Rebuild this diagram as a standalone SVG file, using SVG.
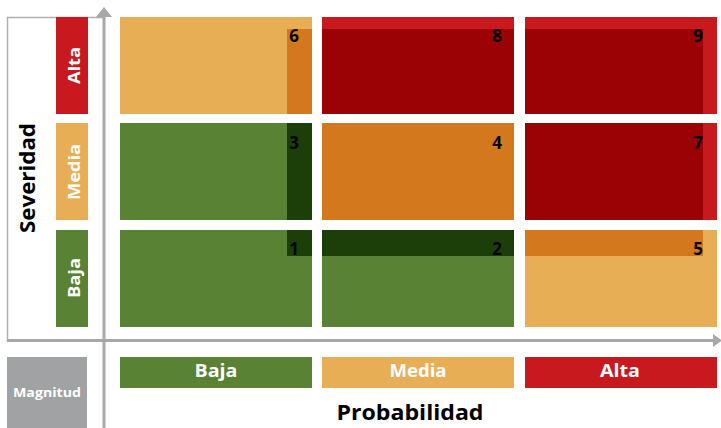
<svg xmlns="http://www.w3.org/2000/svg" width="721" height="428" viewBox="0 0 721 428">
<defs>
<style>
.lbl{font-family:"Open Sans","Liberation Sans",sans-serif;font-weight:bold;fill:#fff;text-anchor:middle}
.num{font-family:"Open Sans","Liberation Sans",sans-serif;font-weight:bold;font-size:17px;fill:#000;text-anchor:end}
.title{font-family:"Open Sans","Liberation Sans",sans-serif;font-weight:bold;font-size:21px;fill:#000;text-anchor:middle}
.g{fill:#598234}.dg{fill:#1c3f0a}.lo{fill:#e8ae56}.o{fill:#d4781e}.dr{fill:#9a0205}.r{fill:#c8191f}.gr{fill:#a0a2a3}
.axis{stroke:#a8a8a8;stroke-width:3;fill:none}
</style>
</defs>
<rect x="0" y="0" width="721" height="428" fill="#fff"/>
<g id="connectors">
<rect x="7.5" y="17.5" width="96.5" height="323" fill="none" stroke="#b0b0b0" stroke-width="1.5"/>
<line class="axis" x1="104" y1="15" x2="104" y2="428"/>
<polygon points="96,17 112,17 104,7" fill="#a8a8a8"/>
<line class="axis" x1="7" y1="340.5" x2="716" y2="340.5"/>
<polygon points="713,334 713,347 722,340.5" fill="#a8a8a8"/>
</g>
<g id="severidad">
<text class="title" transform="translate(35,178) rotate(-90)" textLength="110" lengthAdjust="spacingAndGlyphs">Severidad</text>
</g>
<g id="sev-alta"><rect class="r" x="56" y="17" width="32" height="97"/><text class="lbl" font-size="16" transform="translate(80,65.5) rotate(-90)" textLength="37" lengthAdjust="spacingAndGlyphs">Alta</text></g>
<g id="sev-media"><rect class="lo" x="56" y="123" width="32" height="97"/><text class="lbl" font-size="16" transform="translate(80,172) rotate(-90)" textLength="56" lengthAdjust="spacingAndGlyphs">Media</text></g>
<g id="sev-baja"><rect class="g" x="56" y="230" width="32" height="97"/><text class="lbl" font-size="16" transform="translate(80,278) rotate(-90)" textLength="40" lengthAdjust="spacingAndGlyphs">Baja</text></g>

<g id="cell-6"><rect class="lo" x="120" y="17" width="192" height="97"/><rect class="o" x="287" y="29" width="25" height="85"/><text class="num" x="299" y="42">6</text></g>
<g id="cell-8"><rect class="r" x="322" y="17" width="192" height="97"/><rect class="dr" x="322" y="29" width="192" height="85"/><text class="num" x="502" y="42">8</text></g>
<g id="cell-9"><rect class="r" x="525" y="17" width="192" height="97"/><rect class="dr" x="525" y="29" width="178" height="85"/><text class="num" x="703" y="42">9</text></g>

<g id="cell-3"><rect class="g" x="120" y="123" width="192" height="97"/><rect class="dg" x="287" y="123" width="25" height="97"/><text class="num" x="299" y="149">3</text></g>
<g id="cell-4"><rect class="o" x="322" y="123" width="192" height="97"/><text class="num" x="502" y="149">4</text></g>
<g id="cell-7"><rect class="r" x="525" y="123" width="192" height="97"/><rect class="dr" x="525" y="123" width="178" height="97"/><text class="num" x="703" y="149">7</text></g>

<g id="cell-1"><rect class="g" x="120" y="230" width="192" height="97"/><rect class="dg" x="287" y="230" width="25" height="26"/><text class="num" x="299" y="255">1</text></g>
<g id="cell-2"><rect class="g" x="322" y="230" width="192" height="97"/><rect class="dg" x="322" y="230" width="192" height="26"/><text class="num" x="502" y="255">2</text></g>
<g id="cell-5"><rect class="lo" x="525" y="230" width="192" height="97"/><rect class="o" x="525" y="230" width="178" height="26"/><text class="num" x="703" y="255">5</text></g>

<g id="magnitud"><rect class="gr" x="7" y="357" width="80" height="71"/><text class="lbl" font-size="12.5" x="47" y="397" textLength="68" lengthAdjust="spacingAndGlyphs">Magnitud</text></g>
<g id="prob-baja"><rect class="g" x="120" y="357" width="192" height="31"/><text class="lbl" font-size="17" x="216" y="377" textLength="43" lengthAdjust="spacingAndGlyphs">Baja</text></g>
<g id="prob-media"><rect class="lo" x="322" y="357" width="192" height="31"/><text class="lbl" font-size="17" x="418" y="377" textLength="57" lengthAdjust="spacingAndGlyphs">Media</text></g>
<g id="prob-alta"><rect class="r" x="525" y="357" width="192" height="31"/><text class="lbl" font-size="17" x="620" y="377" textLength="40" lengthAdjust="spacingAndGlyphs">Alta</text></g>
<g id="probabilidad"><text class="title" x="410" y="420" textLength="147" lengthAdjust="spacingAndGlyphs">Probabilidad</text></g>
</svg>
